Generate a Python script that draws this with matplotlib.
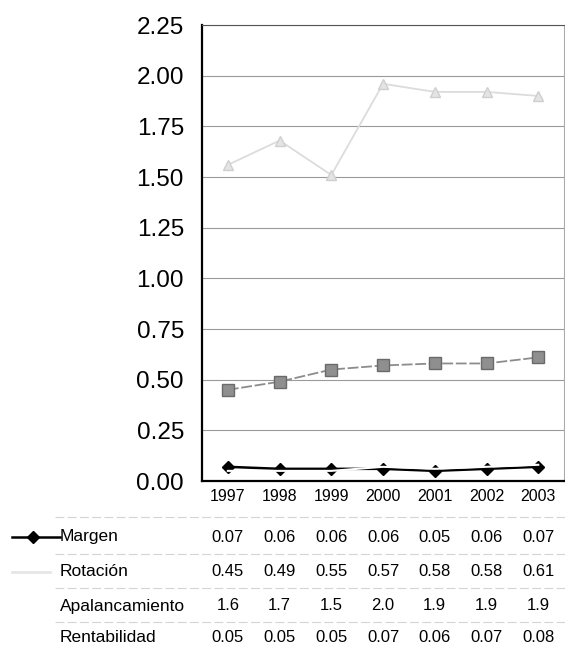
import matplotlib
matplotlib.use("Agg")
import matplotlib.pyplot as plt
from matplotlib.transforms import blended_transform_factory
from matplotlib.lines import Line2D

plt.rcParams['font.family'] = ['Liberation Sans', 'DejaVu Sans']

years = ['1997', '1998', '1999', '2000', '2001', '2002', '2003']
margen = [0.07, 0.06, 0.06, 0.06, 0.05, 0.06, 0.07]
rotacion = [0.45, 0.49, 0.55, 0.57, 0.58, 0.58, 0.61]
apalancamiento = [1.56, 1.68, 1.51, 1.96, 1.92, 1.92, 1.90]
rentabilidad = [0.05, 0.05, 0.05, 0.07, 0.06, 0.07, 0.08]
row_names = ['Margen', 'Rotación', 'Apalancamiento', 'Rentabilidad']
row_fmt = ['{:.2f}', '{:.2f}', '{:.1f}', '{:.2f}']
y_ticks = [0.0, 0.25, 0.5, 0.75, 1.0, 1.25, 1.5, 1.75, 2.0, 2.25]

fig = plt.figure(figsize=(5.65, 6.5), dpi=100)
ax = fig.add_axes([0.3575, 0.26, 0.641, 0.7015])
x = list(range(len(years)))

ax.plot(x, apalancamiento, color='#dcdcdc', lw=1.3, marker='^', ms=7,
        mfc='#e4e4e4', mec='#cfcfcf', zorder=3)
ax.plot(x, rotacion, color='#8c8c8c', lw=1.3, ls=(0, (6, 1.5)), marker='s', ms=8,
        mfc='#8f8f8f', mec='#6a6a6a', zorder=3)
ax.plot(x, margen, color='black', lw=1.8, marker='D', ms=6,
        mfc='black', mec='black', zorder=3)
ax.plot(x, rentabilidad, color='white', lw=1.5, zorder=4)

ax.set_xlim(-0.5, len(years) - 0.5)
ax.set_ylim(0, 2.25)
ax.set_yticks(y_ticks)
ax.set_yticklabels(['{:.2f}'.format(v) for v in y_ticks], fontsize=17.5)
ax.set_xticks(x)
ax.set_xticklabels(years, fontsize=11.5)
ax.tick_params(axis='y', length=0, pad=13)
ax.tick_params(axis='x', length=0, pad=6)
ax.yaxis.grid(True, color='#9a9a9a', lw=0.8)
ax.set_axisbelow(True)
for side in ['left', 'bottom']:
    ax.spines[side].set_linewidth(1.6)
ax.spines['top'].set_color('#555555')
ax.spines['right'].set_color('#aaaaaa')

# data table below the chart
tr = blended_transform_factory(ax.transData, fig.transFigure)
series = [margen, rotacion, apalancamiento, rentabilidad]
row_y = [1 - 537 / 650, 1 - 572 / 650, 1 - 606 / 650, 1 - 638 / 650]
for vals, fmt, yy in zip(series, row_fmt, row_y):
    for xi, v in zip(x, vals):
        ax.text(xi, yy, fmt.format(v), transform=tr, ha='center', va='center',
                fontsize=12, clip_on=False)
for name, yy in zip(row_names, row_y):
    fig.text(60 / 565, yy, name, ha='left', va='center', fontsize=12.5)

for yl in [517, 554, 588, 622]:
    fig.add_artist(Line2D([55 / 565, 1.0], [1 - yl / 650] * 2, color='#d4d4d4',
                          lw=0.8, ls=(0, (8, 3))))

# legend keys
fig.add_artist(Line2D([12 / 565, 60 / 565], [row_y[0]] * 2, color='black', lw=1.8))
fig.add_artist(Line2D([33 / 565], [row_y[0]], marker='D', ms=6, color='black', lw=0))
fig.add_artist(Line2D([12 / 565, 50 / 565], [row_y[1]] * 2, color='#e6e6e6', lw=2))

fig.savefig('out.png', dpi=100)
